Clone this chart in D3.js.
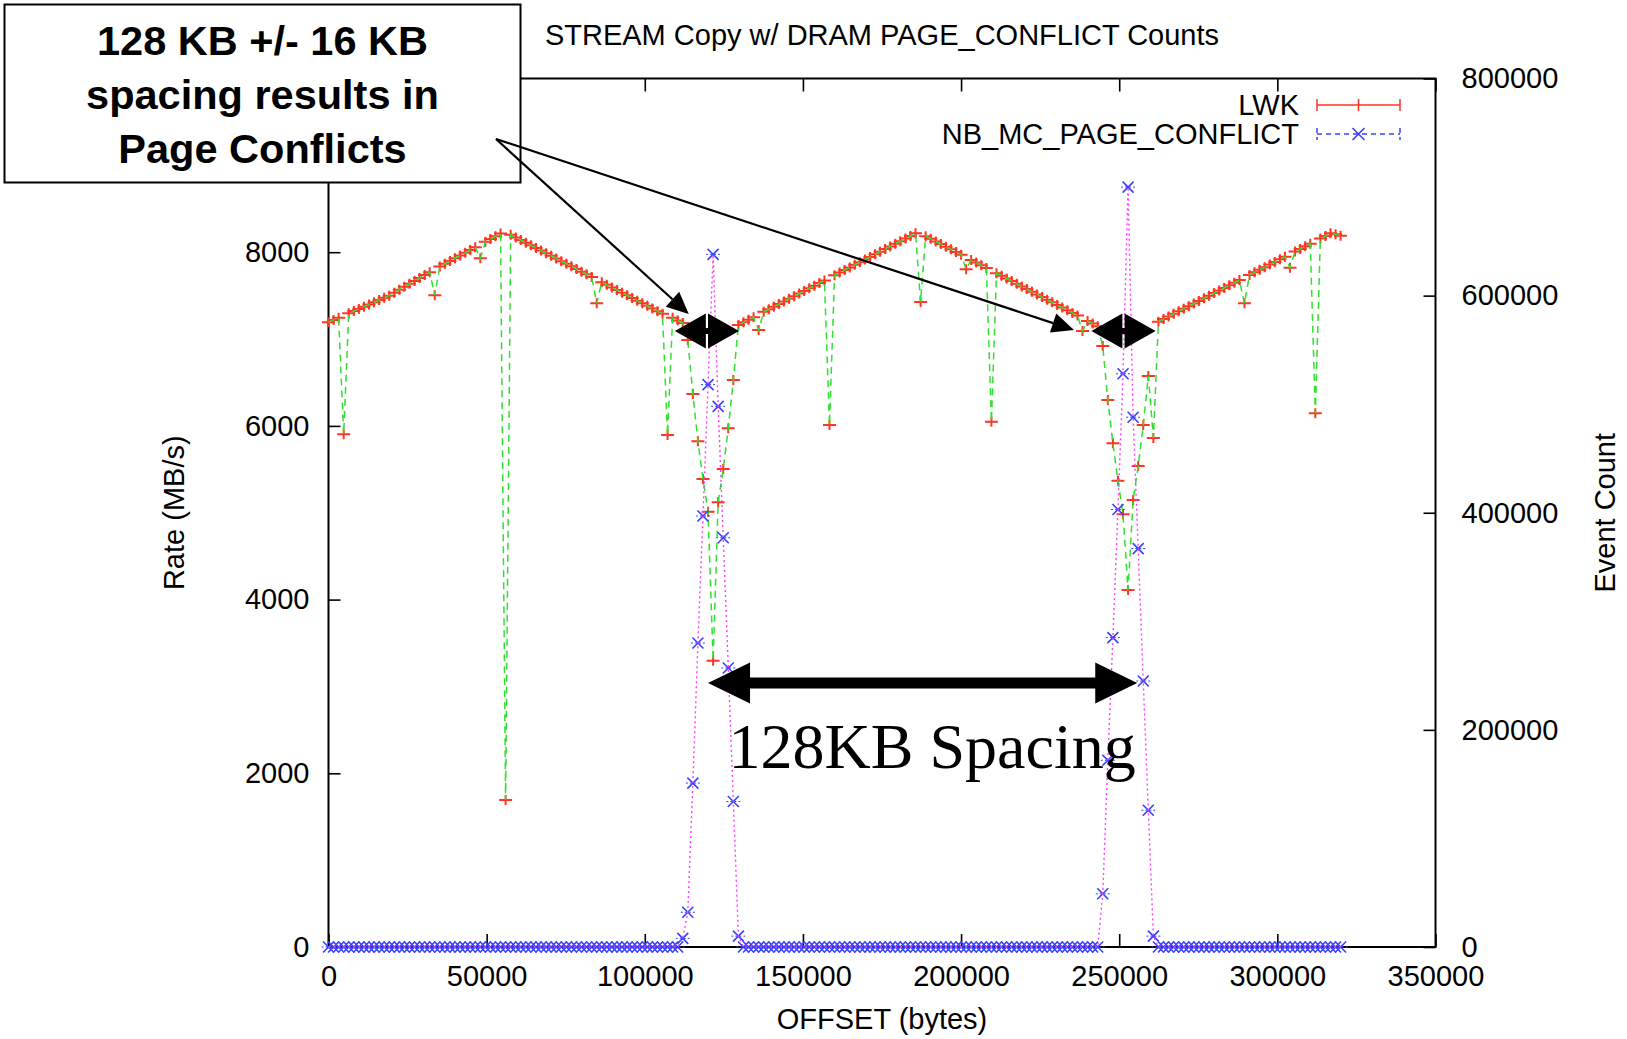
<!DOCTYPE html>
<html>
<head>
<meta charset="utf-8">
<script src="https://cdn.jsdelivr.net/npm/d3@7"></script>
<style>
  html, body { margin: 0; padding: 0; background: #fff; }
  svg { display: block; }
</style>
</head>
<body>
<svg id="chart" width="1627" height="1039"></svg>
<script>
// Buffer offsets tested (bytes)
const offsets = [
  0, 1600, 3200, 4800, 6400, 8000, 9600, 11200, 12800, 14400,
  16000, 17600, 19200, 20800, 22400, 24000, 25600, 27200, 28800, 30400,
  32000, 33600, 35200, 36800, 38400, 40000, 41600, 43200, 44800, 46400,
  48000, 49600, 51200, 52800, 54400, 56000, 57600, 59200, 60800, 62400,
  64000, 65600, 67200, 68800, 70400, 72000, 73600, 75200, 76800, 78400,
  80000, 81600, 83200, 84800, 86400, 88000, 89600, 91200, 92800, 94400,
  96000, 97600, 99200, 100800, 102400, 104000, 105600, 107200, 108800, 110400,
  112000, 113600, 115200, 116800, 118400, 120000, 121600, 123200, 124800, 126400,
  128000, 129600, 131200, 132800, 134400, 136000, 137600, 139200, 140800, 142400,
  144000, 145600, 147200, 148800, 150400, 152000, 153600, 155200, 156800, 158400,
  160000, 161600, 163200, 164800, 166400, 168000, 169600, 171200, 172800, 174400,
  176000, 177600, 179200, 180800, 182400, 184000, 185600, 187200, 188800, 190400,
  192000, 193600, 195200, 196800, 198400, 200000, 201600, 203200, 204800, 206400,
  208000, 209600, 211200, 212800, 214400, 216000, 217600, 219200, 220800, 222400,
  224000, 225600, 227200, 228800, 230400, 232000, 233600, 235200, 236800, 238400,
  240000, 241600, 243200, 244800, 246400, 248000, 249600, 251200, 252800, 254400,
  256000, 257600, 259200, 260800, 262400, 264000, 265600, 267200, 268800, 270400,
  272000, 273600, 275200, 276800, 278400, 280000, 281600, 283200, 284800, 286400,
  288000, 289600, 291200, 292800, 294400, 296000, 297600, 299200, 300800, 302400,
  304000, 305600, 307200, 308800, 310400, 312000, 313600, 315200, 316800, 318400,
  320000
];

// LWK STREAM Copy rate (MB/s)
const lwkRate = [
  7193, 7220, 7246, 5905, 7296, 7322, 7347, 7373, 7398, 7424,
  7449, 7475, 7500, 7534, 7568, 7602, 7636, 7669, 7703, 7737,
  7770, 7505, 7835, 7867, 7898, 7930, 7962, 7993, 8025, 8057,
  7930, 8120, 8152, 8184, 8215, 1692, 8200, 8170, 8140, 8110,
  8079, 8049, 8019, 7988, 7958, 7928, 7897, 7867, 7837, 7806,
  7776, 7746, 7715, 7412, 7655, 7624, 7594, 7564, 7533, 7503,
  7473, 7442, 7412, 7382, 7351, 7321, 7291, 5895, 7245, 7215,
  7185, 6989, 6367, 5823, 5389, 5012, 3297, 5120, 5504, 5972,
  6529, 7162, 7192, 7222, 7252, 7104, 7313, 7343, 7373, 7403,
  7433, 7463, 7494, 7524, 7554, 7584, 7614, 7644, 7674, 6010,
  7735, 7765, 7795, 7825, 7855, 7885, 7916, 7946, 7976, 8006,
  8036, 8066, 8096, 8126, 8157, 8187, 8217, 7428, 8185, 8155,
  8124, 8094, 8063, 8033, 8002, 7972, 7803, 7911, 7880, 7850,
  7819, 6048, 7758, 7728, 7697, 7667, 7636, 7606, 7575, 7545,
  7514, 7484, 7453, 7423, 7392, 7362, 7331, 7301, 7270, 7093,
  7209, 7179, 7148, 6920, 6298, 5800, 5369, 4982, 4110, 5147,
  5538, 6010, 6575, 5860, 7200, 7230, 7260, 7290, 7320, 7350,
  7379, 7409, 7439, 7469, 7499, 7529, 7559, 7589, 7619, 7649,
  7679, 7411, 7738, 7768, 7798, 7828, 7858, 7888, 7918, 7948,
  7822, 8008, 8038, 8068, 8097, 6145, 8157, 8187, 8217, 8206,
  8190
];

// NB_MC_PAGE_CONFLICT event counts
const pageConflicts = [
  0, 0, 0, 0, 0, 0, 0, 0, 0, 0,
  0, 0, 0, 0, 0, 0, 0, 0, 0, 0,
  0, 0, 0, 0, 0, 0, 0, 0, 0, 0,
  0, 0, 0, 0, 0, 0, 0, 0, 0, 0,
  0, 0, 0, 0, 0, 0, 0, 0, 0, 0,
  0, 0, 0, 0, 0, 0, 0, 0, 0, 0,
  0, 0, 0, 0, 0, 0, 0, 0, 0, 0,
  8000, 32000, 151000, 280000, 397000, 518000, 638000, 498000, 377000, 257000,
  134000, 10000, 0, 0, 0, 0, 0, 0, 0, 0,
  0, 0, 0, 0, 0, 0, 0, 0, 0, 0,
  0, 0, 0, 0, 0, 0, 0, 0, 0, 0,
  0, 0, 0, 0, 0, 0, 0, 0, 0, 0,
  0, 0, 0, 0, 0, 0, 0, 0, 0, 0,
  0, 0, 0, 0, 0, 0, 0, 0, 0, 0,
  0, 0, 0, 0, 0, 0, 0, 0, 0, 0,
  0, 0, 0, 49000, 172000, 285000, 403000, 528000, 700000, 488000,
  367000, 245000, 126000, 10000, 0, 0, 0, 0, 0, 0,
  0, 0, 0, 0, 0, 0, 0, 0, 0, 0,
  0, 0, 0, 0, 0, 0, 0, 0, 0, 0,
  0, 0, 0, 0, 0, 0, 0, 0, 0, 0,
  0
];

const xTicks = [0, 50000, 100000, 150000, 200000, 250000, 300000, 350000];
const yTicks = [0, 2000, 4000, 6000, 8000, 10000];
const y2Ticks = [0, 200000, 400000, 600000, 800000];

const titleText = "STREAM Copy w/ DRAM PAGE_CONFLICT Counts";
const xLabel = "OFFSET (bytes)";
const yLabel = "Rate (MB/s)";
const y2Label = "Event Count";
const seriesNames = ["LWK", "NB_MC_PAGE_CONFLICT"];
const calloutLines = ["128 KB +/- 16 KB", "spacing results in", "Page Conflicts"];
const spacingText = "128KB Spacing";

// Annotation anchors in data units
const conflictMarks = [[109500, 129800, 7093], [241200, 261500, 7093]];
const spacingArrow = [120000, 255700, 3040];
const calloutTargets = [[113900, 7288], [235700, 7104]];
const spacingLabelAt = [126500, 2060];

// ---------------- layout & style ----------------
const W = 1627, H = 1039;
const frame = { left: 328.5, right: 1435.5, top: 78.5, bottom: 947 };
const FONT = "'Liberation Sans', Arial, Helvetica, sans-serif";
const SERIF = "'Liberation Serif', 'Times New Roman', serif";
const FS = 29;
const RED = "#ff3524", GREEN = "#2fe02f", BLUE = "#3742ff", MAGENTA = "#ff3cff";

const x = d3.scaleLinear().domain([0, 350000]).range([frame.left, frame.right]);
const y = d3.scaleLinear().domain([0, 10000]).range([frame.bottom, frame.top]);
const y2 = d3.scaleLinear().domain([0, 800000]).range([frame.bottom, frame.top]);

const svg = d3.select("#chart");
svg.append("rect").attr("width", W).attr("height", H).attr("fill", "#fff");

function styleAxis(g) {
  g.select(".domain").remove();
  g.selectAll(".tick line").attr("stroke", "#000").attr("stroke-width", 1.6);
  g.selectAll("text").attr("font-family", FONT).attr("font-size", FS).attr("fill", "#000");
}

// axes with inward ticks
svg.append("g").attr("transform", `translate(0,${frame.bottom})`)
  .call(d3.axisBottom(x).tickValues(xTicks).tickSizeInner(-13).tickSizeOuter(0)
    .tickPadding(18).tickFormat(d3.format("d")))
  .call(styleAxis);
svg.append("g").attr("transform", `translate(0,${frame.top})`)
  .call(d3.axisTop(x).tickValues(xTicks).tickSizeInner(-13).tickSizeOuter(0).tickFormat(() => ""))
  .call(styleAxis);
svg.append("g").attr("transform", `translate(${frame.left},0)`)
  .call(d3.axisLeft(y).tickValues(yTicks).tickSizeInner(-12).tickSizeOuter(0)
    .tickPadding(19).tickFormat(d3.format("d")))
  .call(styleAxis);
svg.append("g").attr("transform", `translate(${frame.right},0)`)
  .call(d3.axisRight(y2).tickValues(y2Ticks).tickSizeInner(-12).tickSizeOuter(0)
    .tickPadding(26).tickFormat(d3.format("d")))
  .call(styleAxis);

svg.append("rect")
  .attr("x", frame.left).attr("y", frame.top)
  .attr("width", frame.right - frame.left).attr("height", frame.bottom - frame.top)
  .attr("fill", "none").attr("stroke", "#000").attr("stroke-width", 2);

// axis titles
const midX = (frame.left + frame.right) / 2, midY = (frame.top + frame.bottom) / 2;
svg.append("text").attr("x", midX).attr("y", 45).attr("text-anchor", "middle")
  .attr("font-family", FONT).attr("font-size", FS).text(titleText);
svg.append("text").attr("x", midX).attr("y", 1029).attr("text-anchor", "middle")
  .attr("font-family", FONT).attr("font-size", FS).text(xLabel);
svg.append("text").attr("transform", `translate(174,${midY}) rotate(-90)`)
  .attr("text-anchor", "middle").attr("dy", "0.35em")
  .attr("font-family", FONT).attr("font-size", FS).text(yLabel);
svg.append("text").attr("transform", `translate(1605,${midY}) rotate(-90)`)
  .attr("text-anchor", "middle").attr("dy", "0.35em")
  .attr("font-family", FONT).attr("font-size", FS).text(y2Label);

// ---------------- data ----------------
const rows = offsets.map((o, i) => ({ offset: o, rate: lwkRate[i], count: pageConflicts[i] }));

const PLUS = "M-6.5,0H6.5M0,-5V5";
const CROSS = "M-5.5,-5.5L5.5,5.5M-5.5,5.5L5.5,-5.5";
const CAP = "M-7,0H7";

// LWK points
svg.append("g").selectAll("path").data(rows).join("path")
  .attr("transform", d => `translate(${x(d.offset)},${y(d.rate)})`)
  .attr("d", PLUS).attr("fill", "none").attr("stroke", RED).attr("stroke-width", 2);

// LWK connecting line
svg.append("path").datum(rows)
  .attr("d", d3.line().x(d => x(d.offset)).y(d => y(d.rate)))
  .attr("fill", "none").attr("stroke", GREEN).attr("stroke-width", 1.5)
  .attr("stroke-dasharray", "7,5");

// Page-conflict points
const pc = svg.append("g").selectAll("g").data(rows).join("g")
  .attr("transform", d => `translate(${x(d.offset)},${y2(d.count)})`);
pc.append("path").attr("d", CROSS).attr("fill", "none").attr("stroke", BLUE).attr("stroke-width", 1.6);
pc.append("path").attr("d", CAP).attr("fill", "none").attr("stroke", BLUE).attr("stroke-width", 1)
  .attr("stroke-dasharray", "2,2");

// Page-conflict connecting line
svg.append("path").datum(rows)
  .attr("d", d3.line().x(d => x(d.offset)).y(d => y2(d.count)))
  .attr("fill", "none").attr("stroke", MAGENTA).attr("stroke-width", 1.4)
  .attr("stroke-dasharray", "2,3");

// ---------------- legend ----------------
const leg = { textRight: 1299, lineFrom: 1317, lineTo: 1400, rows: [105, 134] };
seriesNames.forEach((name, k) => {
  const ly = leg.rows[k];
  svg.append("text").attr("x", leg.textRight).attr("y", ly).attr("dy", "0.35em")
    .attr("text-anchor", "end").attr("font-family", FONT).attr("font-size", FS).text(name);
  const col = k === 0 ? RED : BLUE;
  const dash = k === 0 ? null : "5,4";
  svg.append("path")
    .attr("d", `M${leg.lineFrom},${ly}H${leg.lineTo}M${leg.lineFrom},${ly - 6}V${ly + 6}M${leg.lineTo},${ly - 6}V${ly + 6}`)
    .attr("fill", "none").attr("stroke", col).attr("stroke-width", 1.5).attr("stroke-dasharray", dash);
  svg.append("path").attr("transform", `translate(${(leg.lineFrom + leg.lineTo) / 2},${ly})`)
    .attr("d", k === 0 ? "M0,-6V6" : "M-6,-6L6,6M-6,6L6,-6")
    .attr("fill", "none").attr("stroke", col).attr("stroke-width", 1.6);
});

// ---------------- annotations ----------------
function doubleArrow(xa, xb, yc, L, hw, t) {
  return `M${xa},${yc}L${xa + L},${yc - hw}L${xa + L},${yc - t}L${xb - L},${yc - t}L${xb - L},${yc - hw}` +
         `L${xb},${yc}L${xb - L},${yc + hw}L${xb - L},${yc + t}L${xa + L},${yc + t}L${xa + L},${yc + hw}Z`;
}

conflictMarks.forEach(([a, b, r]) => {
  svg.append("path").attr("d", doubleArrow(x(a), x(b), y(r), 31, 17.5, 3)).attr("fill", "#000");
});

svg.append("path")
  .attr("d", doubleArrow(x(spacingArrow[0]), x(spacingArrow[1]), y(spacingArrow[2]), 42, 20.5, 5.5))
  .attr("fill", "#000");

svg.append("text").attr("x", x(spacingLabelAt[0])).attr("y", y(spacingLabelAt[1]))
  .attr("font-family", SERIF).attr("font-size", 64).text(spacingText);

// callout box
const box = { x: 4.5, y: 4.5, w: 516, h: 178 };
svg.append("rect").attr("x", box.x).attr("y", box.y).attr("width", box.w).attr("height", box.h)
  .attr("fill", "#fff").attr("stroke", "#000").attr("stroke-width", 2);
const lineBase = [55, 109, 163];
calloutLines.forEach((t, k) => {
  svg.append("text").attr("x", box.x + box.w / 2).attr("y", lineBase[k])
    .attr("text-anchor", "middle").attr("font-family", FONT).attr("font-weight", "bold")
    .attr("font-size", 41.5).text(t);
});

// callout pointers
const origin = [496, 139];
calloutTargets.forEach(([ox, r]) => {
  const tx = x(ox), ty = y(r);
  const dx = tx - origin[0], dy = ty - origin[1];
  const len = Math.hypot(dx, dy), ux = dx / len, uy = dy / len;
  const L = 22, hw = 10;
  const bx = tx - ux * L, by = ty - uy * L;
  svg.append("line").attr("x1", origin[0]).attr("y1", origin[1]).attr("x2", bx).attr("y2", by)
    .attr("stroke", "#000").attr("stroke-width", 2.2);
  svg.append("path")
    .attr("d", `M${tx},${ty}L${bx - uy * hw},${by + ux * hw}L${bx + uy * hw},${by - ux * hw}Z`)
    .attr("fill", "#000");
});
</script>
</body>
</html>
